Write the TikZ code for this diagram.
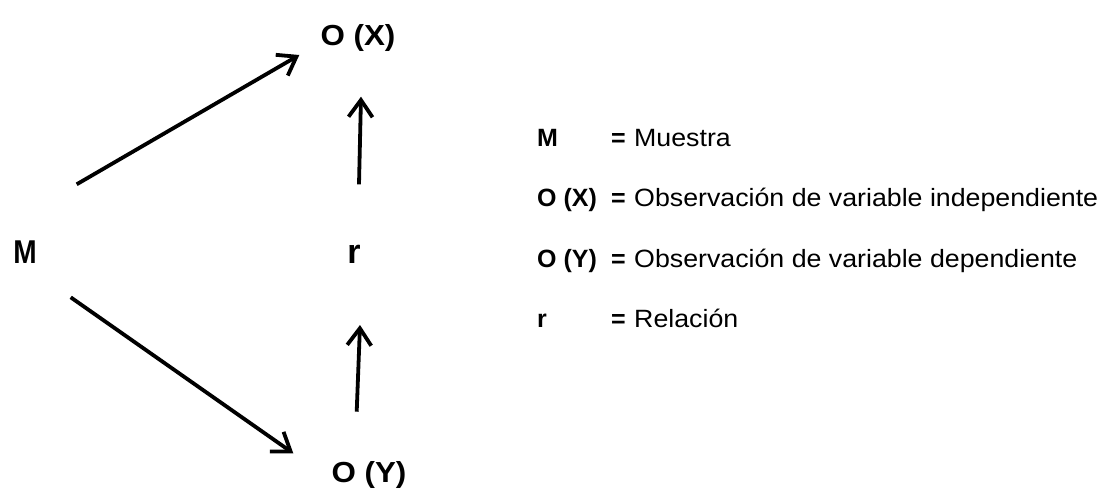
\documentclass[tikz,border=0pt]{standalone}
\usepackage{fontspec}
\setmainfont{Liberation Sans}
\usetikzlibrary{arrows.meta}
\newcommand{\stretchx}[2]{\scalebox{#1}[1]{#2}}
\tikzset{
  big/.style={anchor=base, inner sep=0pt, font=\bfseries\fontsize{29}{29}\selectfont},
  key/.style={anchor=base west, inner sep=0pt, font=\bfseries\fontsize{25}{25}\selectfont},
  desc/.style={anchor=base west, inner sep=0pt, font=\fontsize{25}{25}\selectfont},
  arr/.style={line width=3.8pt, -{Straight Barb[length=17pt,width=24pt]}}
}
\begin{document}
\begin{tikzpicture}[x=1pt,y=-1pt]
  \useasboundingbox[fill=white] (0,0) rectangle (1102,488);

  % diagram labels
  \node[big, font=\bfseries\fontsize{33}{33}\selectfont] (M) at (25,263) {\stretchx{0.85}{M}};
  \node[big, font=\bfseries\fontsize{34}{34}\selectfont] (r) at (354,263) {r};
  \node[big] (OX) at (358,45) {\stretchx{1.08}{O (X)}};
  \node[big] (OY) at (369,482) {\stretchx{1.08}{O (Y)}};

  % arrow end points
  \coordinate (a1s) at (76.7,184.3);
  \coordinate (a1e) at (299.3,55);
  \coordinate (a2s) at (70.7,297.3);
  \coordinate (a2e) at (293.3,453.3);
  \coordinate (a3s) at (359,184.3);
  \coordinate (a3e) at (361,96.7);
  \coordinate (a4s) at (356.7,411.7);
  \coordinate (a4e) at (360,325);

  \draw[arr] (a1s) -- (a1e);
  \draw[arr] (a2s) -- (a2e);
  \draw[arr] (a3s) -- (a3e);
  \draw[arr] (a4s) -- (a4e);

  % legend
  \node[key] (kM)  at (537,146)   {M};
  \node[key] (kOX) at (537,206.5) {O (X)};
  \node[key] (kOY) at (537,267)   {O (Y)};
  \node[key] (kr)  at (537,327)   {r};

  \node[key] (e1) at (611,146)   {=};
  \node[key] (e2) at (611,206.5) {=};
  \node[key] (e3) at (611,267)   {=};
  \node[key] (e4) at (611,327)   {=};

  \node[desc] (d1) at (634,146)   {\stretchx{1.07}{Muestra}};
  \node[desc] (d2) at (634,206.5) {\stretchx{1.07}{Observación de variable independiente}};
  \node[desc] (d3) at (634,267)   {\stretchx{1.07}{Observación de variable dependiente}};
  \node[desc] (d4) at (634,327)   {\stretchx{1.07}{Relación}};
\end{tikzpicture}
\end{document}
